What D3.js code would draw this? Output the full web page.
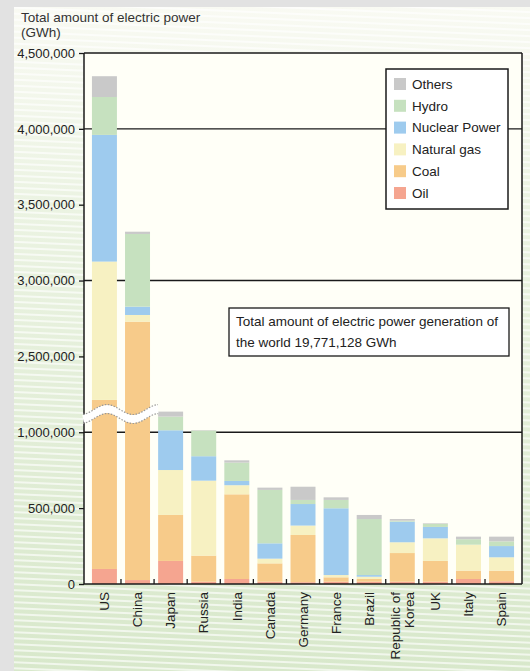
<!DOCTYPE html>
<html>
<head>
<meta charset="utf-8">
<script src="https://cdn.jsdelivr.net/npm/d3@7"></script>
<style>
  body { margin: 0; background: #e2e2e2; }
  svg { display: block; font-family: "Liberation Sans", Arial, sans-serif; }
</style>
</head>
<body>
<div id="chart"></div>
<script>
// categories + series (GWh)
var countries = ["US", "China", "Japan", "Russia", "India", "Canada", "Germany", "France", "Brazil", "Republic of Korea", "UK", "Italy", "Spain"];
var oil     = [99000, 26000, 152000, 15000, 33000, 15000, 12000, 15000, 15000, 15000, 15000, 33000, 18000];
var coal    = [2114000, 2703000, 303000, 172000, 558000, 121000, 311000, 29000, 18000, 189000, 137000, 55000, 70000];
var gas     = [912000, 44000, 296000, 494000, 60000, 31000, 62000, 15000, 15000, 71000, 149000, 171000, 88000];
var nuclear = [835000, 55000, 262000, 161000, 28000, 101000, 142000, 440000, 11000, 136000, 75000, 0, 74000];
var hydro   = [250000, 479000, 90000, 169000, 121000, 352000, 27000, 55000, 369000, 6000, 20000, 36000, 31000];
var others  = [137000, 15000, 33000, 3000, 15000, 15000, 87000, 17000, 27000, 11000, 4000, 17000, 31000];

var seriesNames = ["Oil", "Coal", "Natural gas", "Nuclear Power", "Hydro", "Others"];
var seriesValues = [oil, coal, gas, nuclear, hydro, others];
var colors = ["#f5a590", "#f7cb8a", "#f7f1c2", "#9ecbee", "#c6e1bf", "#c9c9c9"];

var yTicks = [0, 500000, 1000000, 2500000, 3000000, 3500000, 4000000, 4500000];
var gridValues = [1000000, 3000000, 4000000];
var breakLow = 1140000, breakHigh = 2140000;

var width = 530, height = 671;
var margin = {top: 53, right: 8, bottom: 87, left: 84};

var svg = d3.select("#chart").append("svg")
  .attr("width", width)
  .attr("height", height);

var defs = svg.append("defs");
var grad = defs.append("linearGradient").attr("id", "bg").attr("x1", 0).attr("y1", 0).attr("x2", 0).attr("y2", 1);
grad.append("stop").attr("offset", "0").attr("stop-color", "#f9faf3");
grad.append("stop").attr("offset", "0.3").attr("stop-color", "#ebf3e2");
grad.append("stop").attr("offset", "1").attr("stop-color", "#d8e8cb");

var pat = defs.append("pattern").attr("id", "stripes")
  .attr("patternUnits", "userSpaceOnUse")
  .attr("width", 600).attr("height", 6)
  .attr("patternTransform", "rotate(2.5)");
pat.append("line").attr("x1", 0).attr("x2", 600).attr("y1", 1).attr("y2", 1)
  .attr("stroke", "#fff").attr("stroke-width", 1.3).attr("opacity", 0.85);

// background panel
svg.append("rect").attr("x", 0).attr("y", 0).attr("width", width).attr("height", height).attr("fill", "#e2e2e2");
svg.append("rect").attr("x", 14).attr("y", 7).attr("width", width - 14).attr("height", height - 7).attr("fill", "url(#bg)");
svg.append("rect").attr("x", 14).attr("y", 7).attr("width", width - 14).attr("height", height - 7).attr("fill", "url(#stripes)");

// scales
var x = d3.scaleBand()
  .domain(countries)
  .range([margin.left, width - margin.right])
  .paddingInner(0.245)
  .paddingOuter(0.24);

var y = d3.scaleLinear()
  .domain([0, breakLow, breakHigh, 4500000])
  .range([height - margin.bottom, 411, 411, margin.top]);

// plot background
svg.append("rect")
  .attr("x", margin.left).attr("y", margin.top)
  .attr("width", width - margin.right - margin.left)
  .attr("height", height - margin.bottom - margin.top)
  .attr("fill", "#fffff7");

// grid lines
svg.append("g").selectAll("line").data(gridValues).enter().append("line")
  .attr("x1", margin.left).attr("x2", width - margin.right)
  .attr("y1", function(d) { return y(d); })
  .attr("y2", function(d) { return y(d); })
  .attr("stroke", "#1a1a1a").attr("stroke-width", 1.4);

// stacked bars
var rows = countries.map(function(c, i) {
  var r = {country: c};
  seriesNames.forEach(function(s, j) { r[s] = seriesValues[j][i]; });
  return r;
});
var stack = d3.stack().keys(seriesNames)(rows);

svg.append("g").selectAll("g").data(stack).enter().append("g")
  .attr("fill", function(d, i) { return colors[i]; })
  .selectAll("rect").data(function(d) { return d; }).enter().append("rect")
    .attr("x", function(d) { return x(d.data.country); })
    .attr("width", x.bandwidth())
    .attr("y", function(d) { return y(d[1]); })
    .attr("height", function(d) { return Math.max(0, y(d[0]) - y(d[1])); });

// frame
var frame = svg.append("g").attr("fill", "none").attr("stroke", "#1a1a1a").attr("stroke-width", 1.5);
frame.append("line").attr("x1", margin.left).attr("x2", width - margin.right).attr("y1", y(4500000)).attr("y2", y(4500000));
frame.append("line").attr("x1", width - margin.right).attr("x2", width - margin.right).attr("y1", y(4500000)).attr("y2", y(0));

// y axis
var yAxis = svg.append("g")
  .attr("transform", "translate(" + margin.left + ",0)")
  .call(d3.axisLeft(y).tickValues(yTicks).tickSize(5).tickPadding(4).tickFormat(d3.format(",")));
yAxis.select(".domain").attr("stroke", "#1a1a1a").attr("stroke-width", 1.5).attr("d", "M0," + y(4500000) + "V" + y(0));
yAxis.selectAll(".tick line").attr("stroke", "#1a1a1a").attr("stroke-width", 1.3);
yAxis.selectAll("text").attr("font-size", "13px").attr("fill", "#222");

// x axis line + ticks between bars
var xAxis = svg.append("g").attr("stroke", "#1a1a1a");
xAxis.append("line").attr("x1", margin.left).attr("x2", width - margin.right)
  .attr("y1", y(0)).attr("y2", y(0)).attr("stroke-width", 1.5);
xAxis.selectAll(".sep").data(countries.slice(1)).enter().append("line")
  .attr("class", "sep")
  .attr("x1", function(d) { return x(d) - x.step() * x.paddingInner() / 2; })
  .attr("x2", function(d) { return x(d) - x.step() * x.paddingInner() / 2; })
  .attr("y1", y(0)).attr("y2", y(0) - 5)
  .attr("stroke-width", 1.3);

// category labels (vertical)
var labels = svg.append("g").attr("font-size", "13.5px").attr("fill", "#222");
countries.forEach(function(c) {
  var cx = x(c) + x.bandwidth() / 2;
  var lines = c === "Republic of Korea" ? ["Republic of", "Korea"] : [c];
  lines.forEach(function(t, k) {
    var off = (k - (lines.length - 1) / 2) * 14;
    labels.append("text")
      .attr("transform", "translate(" + (cx + off) + "," + (y(0) + 8) + ") rotate(-90)")
      .attr("text-anchor", "end")
      .attr("dy", "0.35em")
      .text(t);
  });
});

// axis break (wavy band)
var yc = y(1120000);
var wave = d3.range(margin.left - 1, x("China") + x.bandwidth() + 8, 1);
var waveLine = function(dy) {
  return d3.line()
    .x(function(d) { return d; })
    .y(function(d) { return yc + dy - 5 * Math.cos(2 * Math.PI * (d - 107) / 52); })
    .curve(d3.curveBasis)(wave);
};
svg.append("path").attr("d", waveLine(0)).attr("fill", "none").attr("stroke", "#fff").attr("stroke-width", 8);
[-4.5, 4.5].forEach(function(o) {
  svg.append("path").attr("d", waveLine(o)).attr("fill", "none")
    .attr("stroke", "#9a9a9a").attr("stroke-width", 1.2).attr("stroke-dasharray", "1.5,1.5");
});

// y title
svg.append("text").attr("x", 21).attr("y", 22).attr("font-size", "13.5px").attr("fill", "#333")
  .text("Total amount of electric power");
svg.append("text").attr("x", 21).attr("y", 37).attr("font-size", "13.5px").attr("fill", "#333")
  .text("(GWh)");

// legend
var legend = svg.append("g").attr("transform", "translate(386,69)");
legend.append("rect").attr("width", 122).attr("height", 140)
  .attr("fill", "#fff").attr("stroke", "#1a1a1a").attr("stroke-width", 1.5);
var legendOrder = seriesNames.slice().reverse();
legend.selectAll(".item").data(legendOrder).enter().append("g")
  .attr("class", "item")
  .attr("transform", function(d, i) { return "translate(8," + (15 + i * 21.8) + ")"; })
  .each(function(d) {
    var g = d3.select(this);
    g.append("rect").attr("x", 0).attr("y", -6).attr("width", 12).attr("height", 12)
      .attr("fill", colors[seriesNames.indexOf(d)]);
    g.append("text").attr("x", 18).attr("y", 0).attr("dy", "0.35em")
      .attr("font-size", "13.5px").attr("fill", "#222").text(d);
  });

// annotation box
var note = svg.append("g").attr("transform", "translate(229,308)");
note.append("rect").attr("width", 280).attr("height", 48)
  .attr("fill", "#fff").attr("stroke", "#1a1a1a").attr("stroke-width", 1.3);
note.append("text").attr("x", 7).attr("y", 18).attr("font-size", "13.5px").attr("fill", "#222")
  .text("Total amount of electric power generation of");
note.append("text").attr("x", 7).attr("y", 39).attr("font-size", "13.5px").attr("fill", "#222")
  .text("the world 19,771,128 GWh");
</script>
</body>
</html>
